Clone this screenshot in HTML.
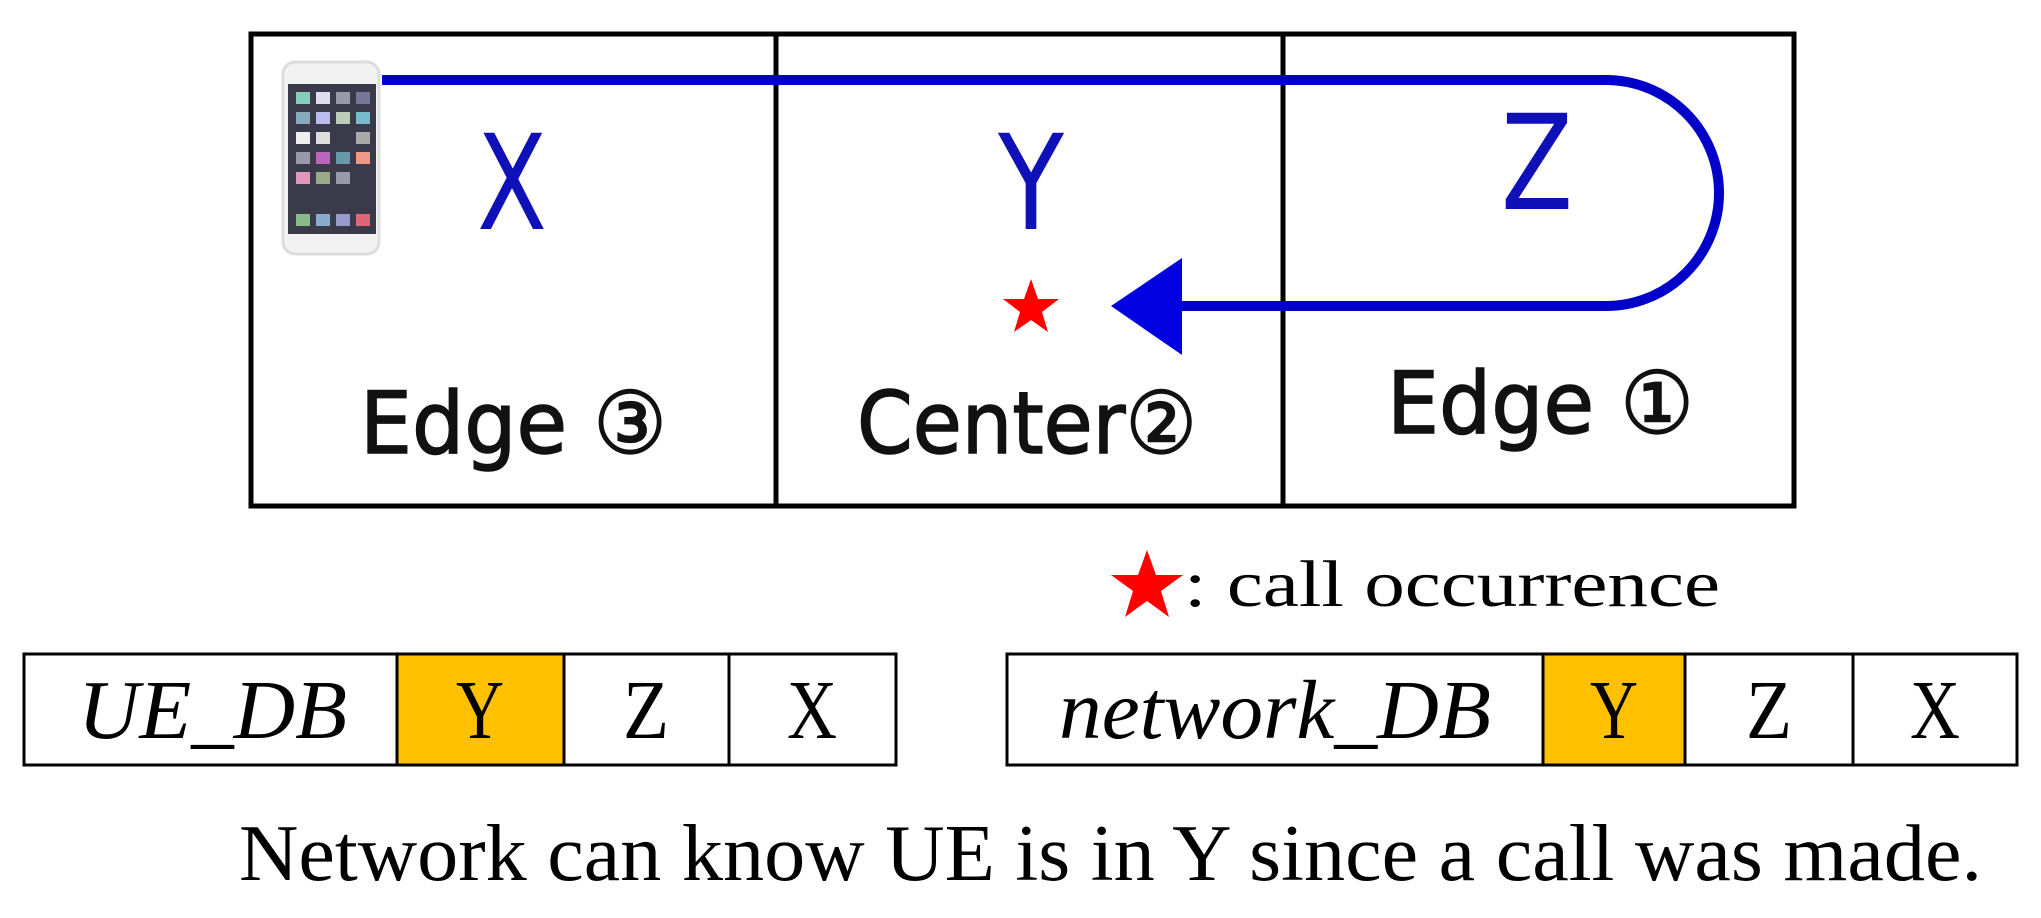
<!DOCTYPE html>
<html><head><meta charset="utf-8"><style>html,body{margin:0;padding:0;background:#fff}svg{display:block}</style></head>
<body>
<svg width="2041" height="918" viewBox="0 0 2041 918" xmlns="http://www.w3.org/2000/svg">
<rect x="251" y="34" width="1543" height="472" fill="#fff" stroke="#000" stroke-width="5"/>
<line x1="776" y1="34" x2="776" y2="506" stroke="#000" stroke-width="5"/>
<line x1="1283" y1="34" x2="1283" y2="506" stroke="#000" stroke-width="5"/>
<!-- phone -->
<rect x="283" y="62" width="96" height="192" rx="12" fill="#f2f2f2" stroke="#ddd" stroke-width="3"/>
<rect x="288" y="84" width="88" height="150" fill="#3a3a4a"/>
<g fill="#9ab">
<rect x="296" y="92" width="14" height="12" fill="#8cb"/><rect x="316" y="92" width="14" height="12" fill="#dde"/><rect x="336" y="92" width="14" height="12" fill="#99a"/><rect x="356" y="92" width="14" height="12" fill="#779"/>
<rect x="296" y="112" width="14" height="12" fill="#8ab"/><rect x="316" y="112" width="14" height="12" fill="#bbe"/><rect x="336" y="112" width="14" height="12" fill="#bcb"/><rect x="356" y="112" width="14" height="12" fill="#7bc"/>
<rect x="296" y="132" width="14" height="12" fill="#eee"/><rect x="316" y="132" width="14" height="12" fill="#ddd"/><rect x="356" y="132" width="14" height="12" fill="#aaa"/>
<rect x="296" y="152" width="14" height="12" fill="#99a"/><rect x="316" y="152" width="14" height="12" fill="#b6b"/><rect x="336" y="152" width="14" height="12" fill="#69a"/><rect x="356" y="152" width="14" height="12" fill="#e98"/>
<rect x="296" y="172" width="14" height="12" fill="#d9b"/><rect x="316" y="172" width="14" height="12" fill="#9a8"/><rect x="336" y="172" width="14" height="12" fill="#99a"/>
<rect x="296" y="214" width="14" height="12" fill="#8b8"/><rect x="316" y="214" width="14" height="12" fill="#8ac"/><rect x="336" y="214" width="14" height="12" fill="#99c"/><rect x="356" y="214" width="14" height="12" fill="#d67"/>
</g>
<!-- path -->
<path d="M382 80 H1606 A113 113 0 0 1 1606 306 H1175" fill="none" stroke="#0000c8" stroke-width="10"/>
<polygon points="1111,306 1182,258 1182,355" fill="#0000e0"/>
<g font-family="'DejaVu Sans', 'Liberation Sans', sans-serif" fill="#1010b8" text-anchor="middle" font-size="132">
<text x="512" y="229" textLength="70" lengthAdjust="spacingAndGlyphs">X</text>
<text x="1031" y="229" textLength="66" lengthAdjust="spacingAndGlyphs">Y</text>
<text x="1537" y="209" textLength="72" lengthAdjust="spacingAndGlyphs">Z</text>
</g>
<polygon fill="#f00" points="1031,279 1038,299 1059,299 1042,312 1048,332 1031,320 1014,332 1020,312 1003,299 1024,299"/>
<g font-family="'DejaVu Sans', 'Noto Sans CJK JP', sans-serif" fill="#111" stroke="#111" stroke-width="1.5" font-size="86">
<text x="360" y="453" textLength="307" lengthAdjust="spacingAndGlyphs">Edge ③</text>
<text x="857" y="453" textLength="340" lengthAdjust="spacingAndGlyphs">Center②</text>
<text x="1387" y="433" textLength="307" lengthAdjust="spacingAndGlyphs">Edge ①</text>
</g>
<!-- legend -->
<polygon fill="#f00" points="1147,550 1156,575 1183,575 1161,591 1169,617 1147,601 1125,617 1133,591 1111,575 1138,575"/>
<text x="1184" y="606" font-size="66" font-family="'Liberation Serif', serif" textLength="536" lengthAdjust="spacingAndGlyphs">: call occurrence</text>
<!-- tables -->
<g stroke="#000" stroke-width="3">
<rect x="24" y="654" width="872" height="111" fill="#fff"/>
<rect x="397" y="654" width="167" height="111" fill="#ffc000"/>
<line x1="729" y1="654" x2="729" y2="765"/>
<rect x="1007" y="654" width="1010" height="111" fill="#fff"/>
<rect x="1543" y="654" width="142" height="111" fill="#ffc000"/>
<line x1="1853" y1="654" x2="1853" y2="765"/>
</g>
<g font-family="'Liberation Serif', serif" font-size="84" fill="#000">
<text x="78" y="738" font-style="italic" textLength="269" lengthAdjust="spacingAndGlyphs">UE_DB</text>
<text x="480" y="738" text-anchor="middle" textLength="48" lengthAdjust="spacingAndGlyphs">Y</text>
<text x="646" y="738" text-anchor="middle" textLength="46" lengthAdjust="spacingAndGlyphs">Z</text>
<text x="812" y="738" text-anchor="middle" textLength="50" lengthAdjust="spacingAndGlyphs">X</text>
<text x="1059" y="738" font-style="italic" textLength="432" lengthAdjust="spacingAndGlyphs">network_DB</text>
<text x="1614" y="738" text-anchor="middle" textLength="48" lengthAdjust="spacingAndGlyphs">Y</text>
<text x="1769" y="738" text-anchor="middle" textLength="46" lengthAdjust="spacingAndGlyphs">Z</text>
<text x="1935" y="738" text-anchor="middle" textLength="50" lengthAdjust="spacingAndGlyphs">X</text>
</g>
<text x="239" y="880" font-family="'Liberation Serif', serif" font-size="80" textLength="1743" lengthAdjust="spacingAndGlyphs">Network can know UE is in Y since a call was made.</text>
</svg>
</body></html>
